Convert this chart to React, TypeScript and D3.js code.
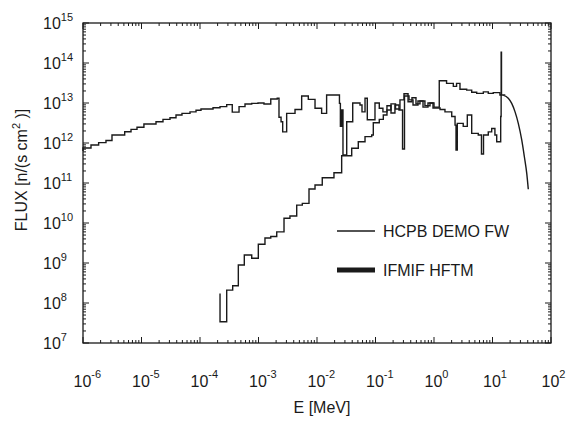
import React from 'react';
import * as d3 from 'd3';

const W = 572;
const H = 422;

// x-axis decades (MeV) and y-axis decades (flux)
const X_DECADES = [-6, -5, -4, -3, -2, -1, 0, 1, 2];
const Y_DECADES = [7, 8, 9, 10, 11, 12, 13, 14, 15];

// HCPB DEMO FW (thin) : bin edges [MeV] and flux per bin
const DEMO_EDGES = [1e-6, 1.37e-6, 1.85e-6, 2.47e-6, 3.13e-6, 5.16e-6, 6.62e-6, 8.38e-6, 1.10e-5, 1.77e-5,
  2.33e-5, 3.07e-5, 3.89e-5, 4.92e-5, 6.75e-5, 8.55e-5, 1.04e-4, 1.67e-4, 2.20e-4, 2.86e-4,
  3.56e-4, 4.65e-4, 5.88e-4, 7.66e-4, 9.8e-4, 1.24e-3, 1.62e-3, 2.09e-3, 2.24e-3, 2.43e-3,
  2.59e-3, 3.03e-3, 4.21e-3, 5.47e-3, 7.10e-3, 9.25e-3, 1.20e-2, 1.46e-2, 2.42e-2, 2.51e-2,
  2.64e-2, 2.78e-2, 3.22e-2, 4.08e-2, 5.43e-2, 5.88e-2, 6.62e-2, 7.24e-2, 9.80e-2, 0.116,
  0.134, 0.157, 0.184, 0.215, 0.252, 0.29, 0.313, 0.374, 0.438, 0.532,
  0.649, 0.789, 0.962, 1.27, 1.54, 2.01, 2.29, 2.38, 2.50, 3.16,
  3.71, 4.41, 5.71, 6.48, 7.02, 8.47, 9.68, 11.0, 11.8, 13.8,
  14.05, 14.25];
const DEMO_FLUX = [7.5e11, 8.9e11, 1.02e12, 1.15e12, 1.58e12, 1.91e12, 2.19e12, 2.47e12, 2.99e12, 3.39e12,
  3.9e12, 4.27e12, 5.0e12, 5.5e12, 6.0e12, 6.6e12, 7.1e12, 7.6e12, 8.1e12, 9.1e12,
  5.9e12, 8.1e12, 9.4e12, 9.8e12, 1.0e13, 9.4e12, 1.26e13, 1.32e13, 4.4e12, 3.4e12,
  1.9e12, 5.5e12, 6.9e12, 1.5e13, 1.23e13, 7.4e12, 5.5e12, 1.58e13, 9.8e12, 2.6e12,
  6.7e12, 5.0e11, 3.4e12, 1.0e13, 8.9e12, 6.0e12, 1.32e13, 3.8e12, 1.0e13, 7.4e12,
  6.0e12, 8.5e12, 5.6e12, 8.9e12, 6.7e12, 7.1e11, 1.5e13, 1.2e13, 8.9e12, 1.12e13,
  7.9e12, 1.0e13, 7.5e12, 6.9e12, 6.0e12, 4.6e12, 2.8e12, 6.7e11, 3.1e12, 2.6e12,
  5.0e12, 1.74e12, 1.58e12, 5.3e11, 1.58e12, 1.9e12, 2.3e12, 1.58e12, 1.07e12, 4.6e12,
  1.86e14];
const DEMO_START = 6.3e11;
const DEMO_END = 1.6e13;

// IFMIF HFTM : bin edges [MeV] and flux per bin, then smooth high-energy tail
const IFMIF_EDGES = [2.20e-4, 2.86e-4, 3.62e-4, 4.52e-4, 5.72e-4, 7.66e-4, 9.93e-4, 1.29e-3, 1.62e-3, 2.05e-3,
  2.73e-3, 3.45e-3, 4.50e-3, 5.61e-3, 7.30e-3, 9.25e-3, 1.23e-2, 1.95e-2, 2.64e-2, 3.92e-2,
  5.08e-2, 6.62e-2, 8.61e-2, 9.17e-2, 0.116, 0.136, 0.157, 0.184, 0.22, 0.262,
  0.307, 0.36, 0.42, 0.492, 0.576, 0.70, 0.855, 1.0, 1.23, 1.64,
  2.14, 2.43, 2.78, 3.62, 4.41, 5.37, 6.97, 8.47, 10.3, 13.4,
  15.3];
const IFMIF_FLUX = [3.4e7, 2.1e8, 2.7e8, 8.9e8, 1.58e9, 1.32e9, 2.95e9, 4.2e9, 4.6e9, 6.0e9,
  1.31e10, 1.5e10, 2.8e10, 3.1e10, 7.1e10, 8.9e10, 1.35e11, 1.8e11, 4.8e11, 7.4e11,
  1.07e12, 1.44e12, 1.58e12, 3.2e12, 3.9e12, 5.0e12, 6.7e12, 9.5e12, 7.1e12, 1.2e13,
  1.7e13, 1.07e13, 1.35e13, 9.5e12, 1.12e13, 8.5e12, 1.0e13, 7.9e12, 3.6e13, 3.1e13,
  2.6e13, 3.1e13, 2.2e13, 2.1e13, 1.86e13, 1.74e13, 1.9e13, 1.74e13, 1.82e13, 1.58e13];
const IFMIF_START = 1.74e8;
const IFMIF_TAIL_E = [15.3, 18.6, 21.3, 24.3, 27.6, 31.6, 35.0, 38.5, 40.9];
const IFMIF_TAIL_F = [1.58e13, 1.32e13, 9.8e12, 6.0e12, 3.1e12, 1.19e12, 4.6e11, 1.74e11, 7.0e10];

const LEGEND = ['HCPB DEMO FW', 'IFMIF HFTM'];

const FONT = '"Liberation Sans", Arial, Helvetica, sans-serif';
const INK = '#1a1a1a';

export default function App() {
  const x = d3.scaleLog().domain([1e-6, 1e2]).range([83, 551]);
  const y = d3.scaleLog().domain([1e7, 1e15]).range([343, 23]);
  const [x0, x1] = x.range();
  const [y0, y1] = y.range();

  const stepPath = (edges: number[], vals: number[], start?: number, end?: number) => {
    const n = Math.min(vals.length, edges.length - 1);
    let d = `M${x(edges[0])},${y(start ?? vals[0])}`;
    for (let i = 0; i < n; i++) {
      d += `V${y(vals[i])}H${x(edges[i + 1])}`;
    }
    if (end !== undefined) d += `V${y(end)}`;
    return d;
  };

  const demoD = stepPath(DEMO_EDGES, DEMO_FLUX, DEMO_START, DEMO_END);
  const tailLine = d3.line<number>().x((_, i) => x(IFMIF_TAIL_E[i])).y((f) => y(f)).curve(d3.curveMonotoneX);
  const ifmifD = stepPath(IFMIF_EDGES, IFMIF_FLUX, IFMIF_START) + 'L' + (tailLine(IFMIF_TAIL_F) || '').slice(1);

  const xMajor = X_DECADES.map((e) => Math.pow(10, e));
  const yMajor = Y_DECADES.map((e) => Math.pow(10, e));
  const xMinor: number[] = [];
  X_DECADES.slice(0, -1).forEach((e) => { for (let k = 2; k <= 9; k++) xMinor.push(k * Math.pow(10, e)); });
  const yMinor: number[] = [];
  Y_DECADES.slice(0, -1).forEach((e) => { for (let k = 2; k <= 9; k++) yMinor.push(k * Math.pow(10, e)); });

  const MAJ = 6;
  const MIN = 3;

  return (
    <svg width={W} height={H} style={{ position: 'absolute', left: 0, top: 0, background: '#fff' }}
      fontFamily={FONT}>
      <rect x={0} y={0} width={W} height={H} fill="#fff" />
      <g stroke={INK} strokeWidth={1} fill="none">
        {xMajor.map((v, i) => (
          <g key={'xM' + i}>
            <line x1={x(v)} x2={x(v)} y1={y0} y2={y0 - MAJ} />
            <line x1={x(v)} x2={x(v)} y1={y1} y2={y1 + MAJ} />
          </g>
        ))}
        {xMinor.map((v, i) => (
          <g key={'xm' + i}>
            <line x1={x(v)} x2={x(v)} y1={y0} y2={y0 - MIN} />
            <line x1={x(v)} x2={x(v)} y1={y1} y2={y1 + MIN} />
          </g>
        ))}
        {yMajor.map((v, i) => (
          <g key={'yM' + i}>
            <line x1={x0} x2={x0 + MAJ} y1={y(v)} y2={y(v)} />
            <line x1={x1} x2={x1 - MAJ} y1={y(v)} y2={y(v)} />
          </g>
        ))}
        {yMinor.map((v, i) => (
          <g key={'ym' + i}>
            <line x1={x0} x2={x0 + MIN} y1={y(v)} y2={y(v)} />
            <line x1={x1} x2={x1 - MIN} y1={y(v)} y2={y(v)} />
          </g>
        ))}
        <rect x={x0} y={y1} width={x1 - x0} height={y0 - y1} strokeWidth={1.3} />
      </g>

      <g fill="none" stroke={INK} strokeWidth={1.4} strokeLinejoin="miter">
        <path d={demoD} />
        <path d={ifmifD} />
      </g>

      <g fill={INK} fontSize={16}>
        {X_DECADES.map((e, i) => (
          <text key={'xl' + i} x={x(Math.pow(10, e)) - 9.5} y={387}>
            10<tspan dy={-9} fontSize={11}>{e}</tspan>
          </text>
        ))}
        {Y_DECADES.map((e, i) => (
          <text key={'yl' + i} x={43} y={y(Math.pow(10, e)) + 6}>
            10<tspan dy={-8} fontSize={11}>{e}</tspan>
          </text>
        ))}
        <text x={322} y={413} textAnchor="middle">E [MeV]</text>
        <text transform={`translate(27,170) rotate(-90)`} textAnchor="middle">
          FLUX [n/(s cm<tspan dy={-7} fontSize={11}>2</tspan><tspan dy={7}> )]</tspan>
        </text>
      </g>

      <g>
        <line x1={337} x2={375} y1={231} y2={231} stroke={INK} strokeWidth={1.5} />
        <text x={383} y={237} fontSize={16} fill={INK}>{LEGEND[0]}</text>
        <line x1={337} x2={375} y1={270} y2={270} stroke={INK} strokeWidth={5} />
        <text x={383} y={276} fontSize={16} fill={INK}>{LEGEND[1]}</text>
      </g>
    </svg>
  );
}
